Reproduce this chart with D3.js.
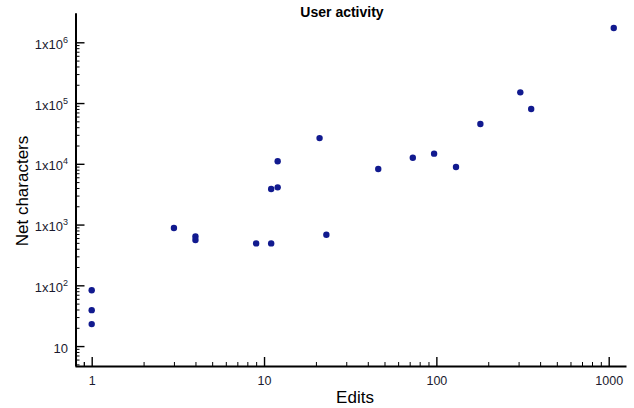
<!DOCTYPE html>
<html><head><meta charset="utf-8">
<script src="https://cdn.jsdelivr.net/npm/d3@7"></script>
<style>body{margin:0;background:#fff}svg{display:block}text{font-family:"Liberation Sans",Arial,Helvetica,sans-serif}</style>
</head><body>
<svg id="c" width="634" height="408"></svg>
<script>
const edits = [1, 1, 1, 3, 4, 4, 9, 11, 11, 12, 12, 21, 23, 46, 73, 97, 130, 180, 307, 355, 1070];
const netChars = [83, 39, 23, 880, 635, 556, 490, 490, 3850, 4100, 11000, 26500, 680, 8200, 12600, 14700, 8850, 45200, 150000, 80000, 1720000];
const xMajorTicks = [1, 10, 100, 1000];
const yMajorTicks = [10, 100, 1000, 10000, 100000, 1000000];
const yTickExponents = ["", "2", "3", "4", "5", "6"];

const svg = d3.select("#c");
const x = d3.scaleLog().domain([0.8, 1260]).range([75, 626]);
const y = d3.scaleLog().domain([4.7, 3.07e6]).range([366, 12.7]);
const inkColor = "#1a1a2e";

function minorTicks(lo, hi) {
  const out = [];
  for (let e = Math.floor(Math.log10(lo)); e <= Math.ceil(Math.log10(hi)); e++) {
    for (let m = 2; m <= 9; m++) {
      const v = m * Math.pow(10, e);
      if (v >= lo && v <= hi) out.push(v);
    }
  }
  return out;
}
const xMinor = minorTicks(0.8, 1000).concat([0.9]);
const yMinor = minorTicks(4.7, 1000000);

// minor ticks
svg.append("g").attr("transform", "translate(0,366)")
  .call(d3.axisBottom(x).tickValues(xMinor).tickSize(-4).tickFormat(""))
  .call(g => g.select(".domain").remove())
  .call(g => g.selectAll("line").attr("stroke", "#000").attr("stroke-width", 1));
svg.append("g").attr("transform", "translate(75.5,0)")
  .call(d3.axisLeft(y).tickValues(yMinor).tickSize(-4).tickFormat(""))
  .call(g => g.select(".domain").remove())
  .call(g => g.selectAll("line").attr("stroke", "#000").attr("stroke-width", 1));

// major x axis
const gx = svg.append("g").attr("transform", "translate(0,366)")
  .call(d3.axisBottom(x).tickValues(xMajorTicks).tickSize(-9).tickSizeOuter(0).tickPadding(10).tickFormat(d3.format("d")));
gx.select(".domain").attr("stroke", "#000").attr("stroke-width", 2);
gx.selectAll(".tick line").attr("stroke", "#000").attr("stroke-width", 1.4);
gx.selectAll(".tick text").attr("font-size", 12.5).attr("fill", inkColor)
  .attr("font-family", '"Liberation Sans", Arial, sans-serif');

// major y axis
const gy = svg.append("g").attr("transform", "translate(75.5,0)")
  .call(d3.axisLeft(y).tickValues(yMajorTicks).tickSize(-9).tickSizeOuter(0).tickPadding(7).tickFormat(""));
gy.select(".domain").attr("stroke", "#000").attr("stroke-width", 2);
gy.selectAll(".tick line").attr("stroke", "#000").attr("stroke-width", 1.4);
gy.selectAll(".tick text").each(function(d, i) {
  const t = d3.select(this).attr("font-size", 13).attr("fill", inkColor)
    .attr("font-family", '"Liberation Sans", Arial, sans-serif')
    .attr("dy", null).attr("y", 6).attr("x", -7.5);
  t.text(null);
  const exp = yTickExponents[i];
  if (!exp) { t.append("tspan").text(String(d)); }
  else {
    t.append("tspan").text("1x10");
    t.append("tspan").attr("font-size", 9).attr("dy", -6).text(exp);
  }
});

// points
svg.append("g").selectAll("circle").data(edits.map((e, i) => [e, netChars[i]]))
  .join("circle")
  .attr("cx", d => x(d[0])).attr("cy", d => y(d[1])).attr("r", 3.2)
  .attr("fill", "#111a8f");

// titles
svg.append("text").attr("x", 342).attr("y", 17).attr("text-anchor", "middle")
  .attr("font-size", 14).attr("font-weight", "bold").attr("fill", "#000").text("User activity");
svg.append("text").attr("x", 355).attr("y", 403).attr("text-anchor", "middle")
  .attr("font-size", 17).attr("fill", "#000").text("Edits");
svg.append("text").attr("transform", "translate(28,191) rotate(-90)").attr("text-anchor", "middle")
  .attr("font-size", 17).attr("fill", "#000").text("Net characters");
</script>
</body></html>
